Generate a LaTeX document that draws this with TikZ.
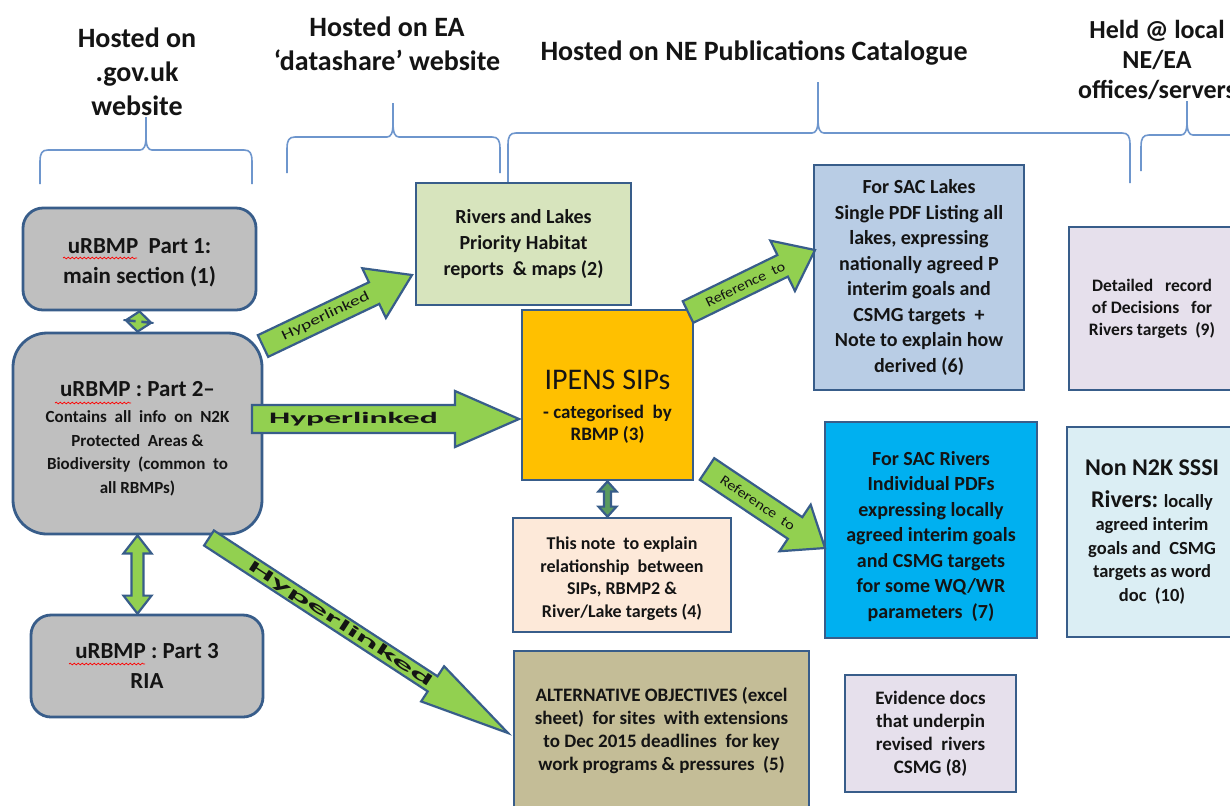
\documentclass[tikz,border=0pt]{standalone}
\usepackage{fontspec}
\setmainfont{Carlito}
\usetikzlibrary{calc,decorations.pathmorphing}
\definecolor{bord}{RGB}{56,93,138}
\definecolor{boxgray}{RGB}{191,191,191}
\definecolor{arrgreen}{RGB}{146,208,80}
\definecolor{dkgreen}{RGB}{90,155,95}
\definecolor{bracecol}{RGB}{110,150,205}
\definecolor{cTwo}{RGB}{215,228,189}
\definecolor{cThree}{RGB}{255,192,0}
\definecolor{cFour}{RGB}{253,233,217}
\definecolor{cFive}{RGB}{196,189,151}
\definecolor{cSix}{RGB}{185,205,229}
\definecolor{cSeven}{RGB}{0,176,240}
\definecolor{cEight}{RGB}{230,224,236}
\definecolor{cTen}{RGB}{219,238,244}
\definecolor{txt}{RGB}{20,20,20}
\newcommand\fsz[2]{\fontsize{#1}{#2}\selectfont}
% block arrow: start, end, shaft half width, head half width, head length, label pos, label
\newcommand\blkarrow[7]{%
  \coordinate (bah) at ($(#2)!#5!(#1)$);
  \draw[blockarr] ($(#1)!#3!90:(#2)$) -- ($(bah)!#3!90:(#2)$) -- ($(bah)!#4!90:(#2)$) -- (#2)
     -- ($(bah)!#4!-90:(#2)$) -- ($(bah)!#3!-90:(#2)$) -- ($(#1)!#3!-90:(#2)$) -- cycle;
  \path (#1) -- (#2) node[pos=#6, sloped, arrlabel] {#7};}
% double block arrow: end1, end2, shaft half, head half, head length, fill
\newcommand\dblarrow[6]{%
  \coordinate (dbha) at ($(#1)!#5!(#2)$);
  \coordinate (dbhb) at ($(#2)!#5!(#1)$);
  \draw[blockarr, fill=#6] (#1) -- ($(dbha)!#4!90:(#2)$) -- ($(dbha)!#3!90:(#2)$)
     -- ($(dbhb)!#3!-90:(#1)$) -- ($(dbhb)!#4!-90:(#1)$) -- (#2)
     -- ($(dbhb)!#4!90:(#1)$) -- ($(dbhb)!#3!90:(#1)$)
     -- ($(dbha)!#3!-90:(#2)$) -- ($(dbha)!#4!-90:(#2)$) -- cycle;}
% brace: x1, x2, xtip, ytop, ybottom, ytip
\newcommand\hbrace[6]{%
  \draw[brace] (#1,#5) -- (#1,#4+12) .. controls (#1,#4+3) and (#1+2,#4) .. (#1+8,#4)
     -- (#3-6,#4) .. controls (#3-2,#4) and (#3,#4-4) .. (#3,#4-14) -- (#3,#6);
  \draw[brace] (#3,#4-14) .. controls (#3,#4-4) and (#3+2,#4) .. (#3+6,#4)
     -- (#2-8,#4) .. controls (#2-2,#4) and (#2,#4+3) .. (#2,#4+12) -- (#2,#5);}
\tikzset{
  box/.style={draw=bord, line width=1.4pt, align=center, inner sep=2pt, text=txt},
  rbox/.style={box, fill=boxgray, rounded corners=10pt},
  blockarr/.style={draw=bord, line width=1.1pt, fill=arrgreen, line join=miter},
  brace/.style={draw=bracecol, line width=0.8pt},
  titletext/.style={align=center, text=txt, font={\bfseries\fsz{14}{17}}},
  arrlabel/.style={inner sep=0pt, text=txt},
  squig/.style={draw=red, line width=0.35pt, decorate, decoration={snake, amplitude=0.45pt, segment length=2pt}},
}
\begin{document}
\begin{tikzpicture}[x=0.5pt, y=-0.5pt]
\useasboundingbox (0,0) rectangle (1230,805);
\fill[white] (0,0) rectangle (1230,805);

% titles
\node[titletext] (t1) at (137,72) {Hosted on\\.gov.uk\\website};
\node[titletext] (t2) at (387,44) {Hosted on EA\\‘datashare’ website};
\node[titletext] (t3) at (754,53) {Hosted on NE Publications Catalogue};
\node[titletext, font={\bfseries\fsz{13}{15}}] (t4) at (1157,60) {Held @ local\\NE/EA\\offices/servers};

% braces
\hbrace{40}{252}{146}{150}{184}{117}
\hbrace{287}{500}{393}{137}{173}{103}
\hbrace{508}{1130}{818}{133}{183}{82}
\hbrace{1141}{1262}{1187}{135}{171}{101}

% left column
\node[rbox, minimum width=116.5pt, minimum height=51pt, font={\bfseries\fsz{11.5}{15}}] (b1) at (139.5,259)
  {\rule{0pt}{11pt}uRBMP~~Part 1:\\main section (1)};
\node[rbox, rounded corners=17pt, minimum width=124.5pt, minimum height=100.5pt, font={\bfseries\fsz{8.5}{11.75}}] (b2) at (137.5,433.5)
  {\rule{0pt}{12.5pt}{\fsz{11.5}{13}uRBMP~: Part 2–}\\[1.5pt]Contains~ all~ info~ on~ N2K\\Protected~ Areas \&\\Biodiversity~ (common~ to\\all RBMPs)};
\node[rbox, minimum width=116pt, minimum height=51pt, font={\bfseries\fsz{11.5}{15}}] (b3) at (147,666)
  {uRBMP~: Part 3\\RIA};

% middle / right boxes
\node[box, fill=cTwo, minimum width=107.5pt, minimum height=61pt, font={\bfseries\fsz{10}{13}}] (p2) at (523.5,244)
  {Rivers and Lakes\\Priority Habitat\\reports~~\& maps (2)};
\node[box, fill=cThree, minimum width=85.5pt, minimum height=85pt, font={\bfseries\fsz{9.5}{11}}] (p3) at (607.5,395)
  {\rule{0pt}{21pt}{\mdseries\fsz{15}{16}IPENS SIPs}\\[3.5pt]- categorised~~by\\RBMP (3)};
\node[box, fill=cFour, minimum width=109pt, minimum height=57pt, font={\bfseries\fsz{9}{11.25}}] (p4) at (622,575)
  {\rule{0pt}{10pt}This note~ to explain\\relationship~~between\\SIPs, RBMP2 \&\\River/Lake targets (4)};
\node[box, fill=cFive, minimum width=147.5pt, minimum height=80pt, font={\bfseries\fsz{9.5}{11.5}}] (p5) at (661.5,731)
  {ALTERNATIVE OBJECTIVES (excel\\sheet)~ for sites~ with extensions\\to Dec 2015 deadlines~ for key\\work programs \& pressures~~(5)};
\node[box, fill=cSix, minimum width=105pt, minimum height=112.5pt, font={\bfseries\fsz{10}{12.75}}] (p6) at (919,277.5)
  {For SAC Lakes\\Single PDF Listing all\\lakes, expressing\\nationally agreed P\\interim goals and\\CSMG targets~~+\\Note to explain how\\derived (6)};
\node[box, fill=cSeven, minimum width=106pt, minimum height=108pt, font={\bfseries\fsz{10}{12.75}}] (p7) at (931,530)
  {\rule{0pt}{13.5pt}For SAC Rivers\\Individual PDFs\\expressing locally\\agreed interim goals\\and CSMG targets\\for some WQ/WR\\parameters~~(7)};
\node[box, fill=cEight, minimum width=85.5pt, minimum height=58.5pt, font={\bfseries\fsz{9.5}{11.5}}] (p8) at (930.5,733.5)
  {Evidence docs\\that underpin\\revised~~rivers\\CSMG (8)};
\node[box, fill=cEight, minimum width=83pt, minimum height=81.5pt, font={\bfseries\fsz{8.75}{11}}] (p9) at (1152,308.5)
  {Detailed~~ record\\of Decisions~~ for\\Rivers targets~~(9)};
\node[box, fill=cTen, minimum width=85pt, minimum height=105pt, font={\bfseries\fsz{9.25}{11.75}}] (p10) at (1152,532)
  {{\fsz{12}{14}Non N2K SSSI}\\[4.25pt]{\fsz{12}{14}Rivers:} locally\\agreed interim\\goals and~ CSMG\\targets as word\\doc~~(10)};

% spell-check squiggles
\draw[squig] (63,258) -- (137,258);
\draw[squig] (55,403) -- (131,403);
\draw[squig] (69,664) -- (145,664);

% arrow end points
\coordinate (a1s) at (263,346);  \coordinate (a1e) at (412,275);
\coordinate (a2s) at (252,419);  \coordinate (a2e) at (519,419);
\coordinate (a3s) at (688,312);  \coordinate (a3e) at (815,250);
\coordinate (a4s) at (707,469);  \coordinate (a4e) at (825,548);
\coordinate (a5s) at (209,538);  \coordinate (a5e) at (508,733);

\blkarrow{a1s}{a1e}{6pt}{13.75pt}{21pt}{0.42}{\scalebox{1.4}[1]{\fsz{7}{8}Hyperlinked}}
\blkarrow{a2s}{a2e}{7pt}{14pt}{32pt}{0.38}{\scalebox{2.1}[1]{\bfseries\fsz{8}{9}Hyperlinked}}
\blkarrow{a3s}{a3e}{6pt}{14pt}{18pt}{0.45}{\scalebox{1.15}[1]{\fsz{7}{8}Reference~ to}}
\blkarrow{a4s}{a4e}{6.5pt}{14pt}{18pt}{0.43}{\scalebox{1.15}[1]{\fsz{7}{8}Reference~ to}}
\blkarrow{a5s}{a5e}{4.5pt}{10.5pt}{45pt}{0.44}{\scalebox{2.7}[1]{\bfseries\fsz{8}{9}Hyperlinked}}

% double arrows between boxes
\dblarrow{b1.south}{b2.north}{2pt}{6.25pt}{5pt}{arrgreen}
\dblarrow{b2.south}{b3.north -| b2.south}{3pt}{7pt}{9pt}{arrgreen}
\dblarrow{p3.south}{p4.north -| p3.south}{1.75pt}{4.5pt}{5pt}{dkgreen}
\end{tikzpicture}
\end{document}
